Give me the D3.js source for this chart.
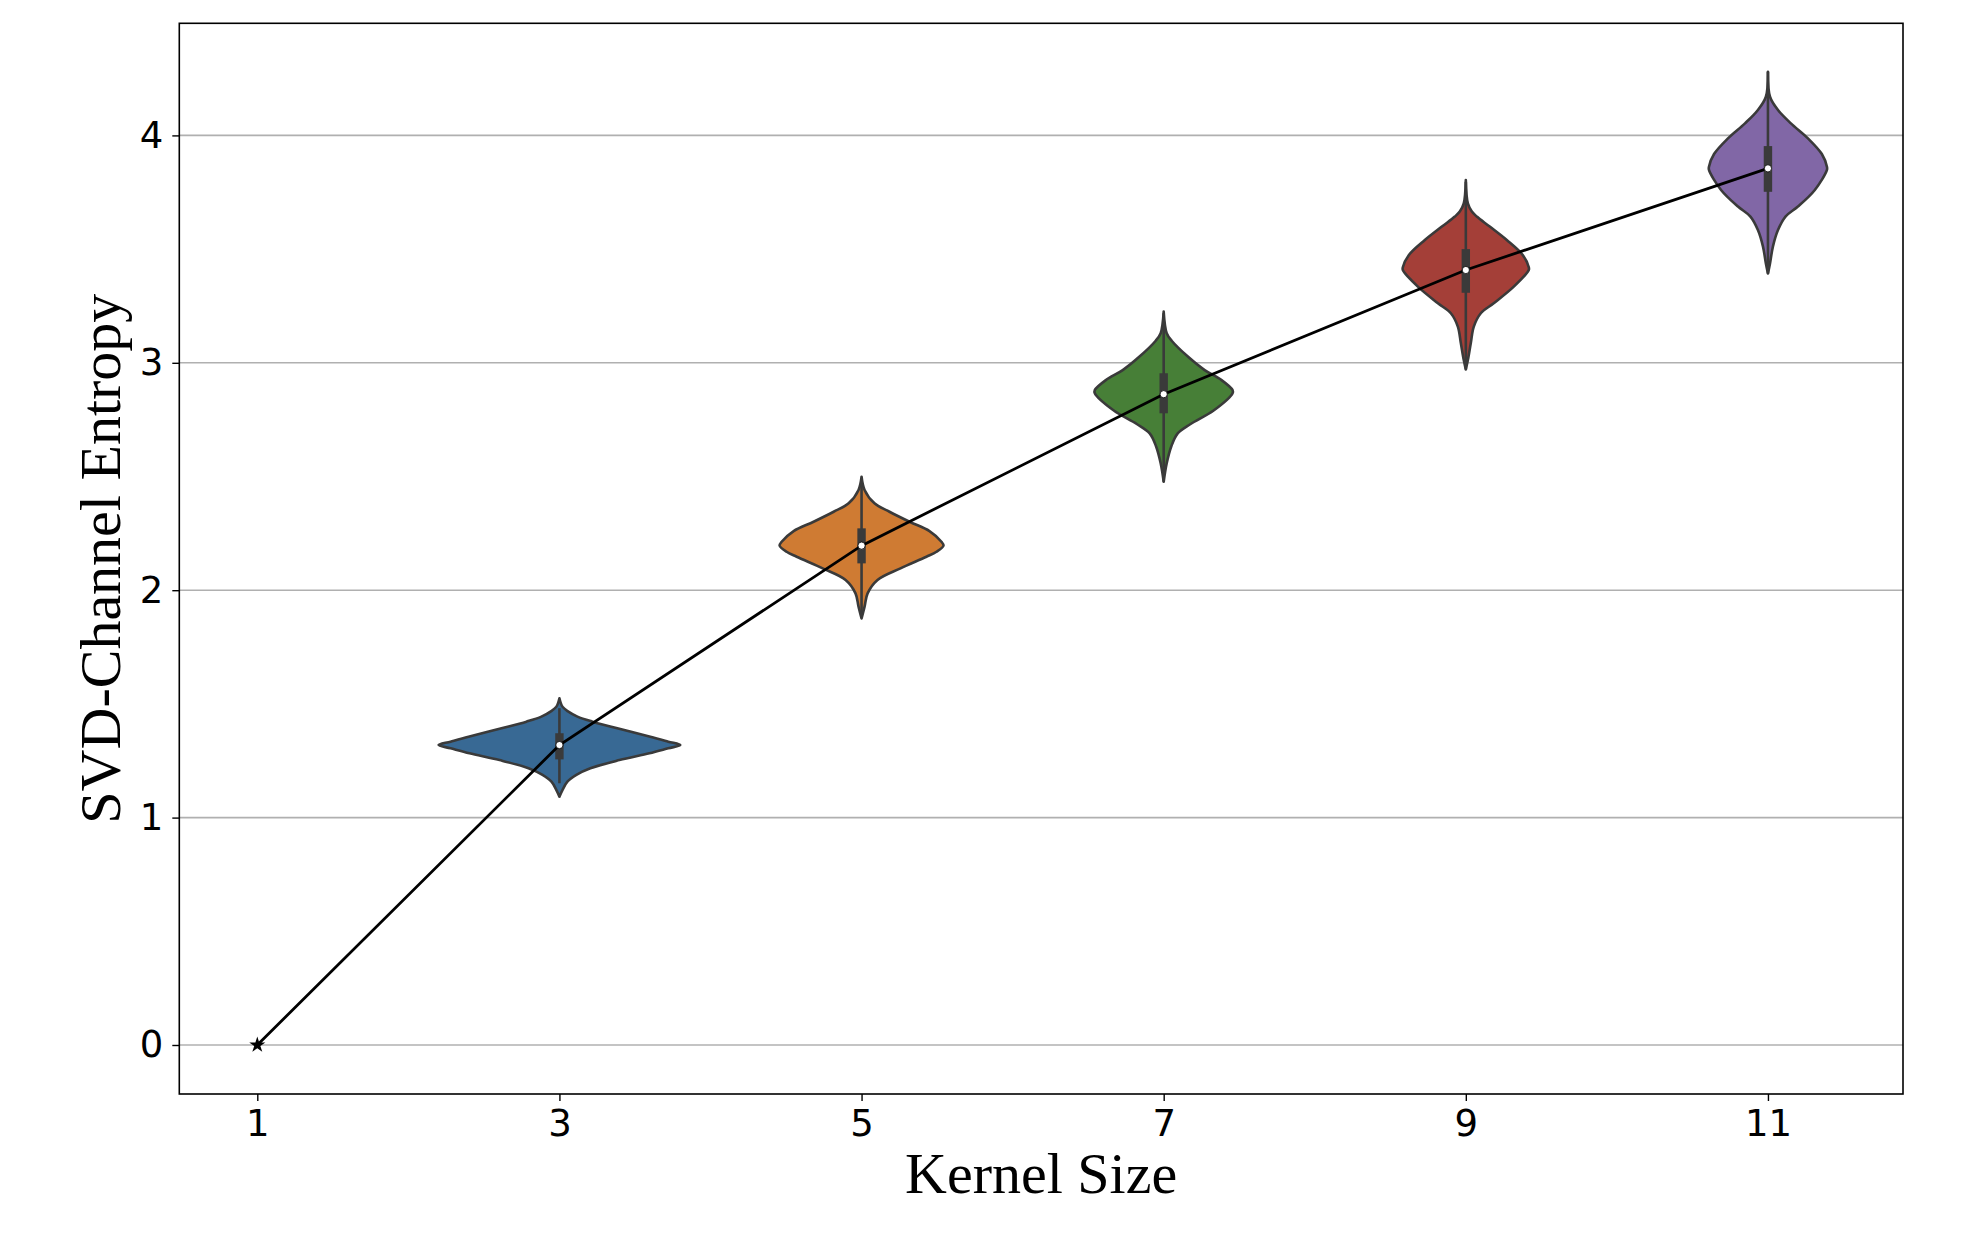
<!DOCTYPE html>
<html>
<head>
<meta charset="utf-8">
<script src="https://cdn.jsdelivr.net/npm/d3@7"></script>
<style>
  body { margin: 0; background: #fff; }
  svg { display: block; }
</style>
</head>
<body>
<svg id="chart"></svg>
<script>
// kernel sizes and line values (median entropy per kernel)
var kernelSizes = [1, 3, 5, 7, 9, 11];
var meanEntropy = [0, 1.319, 2.196, 2.862, 3.408, 3.855];
var yTicks = [0, 1, 2, 3, 4];

// violins (kernel 3..11): density profile
var violinKernels = [3, 5, 7, 9, 11];
var violinColors = ["#386994", "#cf7b33", "#477f37", "#a43f38", "#8167a6"];

var blueVals = [1.525, 1.488, 1.466, 1.444, 1.422, 1.393, 1.356, 1.334, 1.319, 1.305, 1.283, 1.253, 1.217, 1.188, 1.158, 1.121, 1.092];
var blueDens = [0, .025, .074, .149, .273, .479, .752, .901, 1.0, .901, .744, .496, .256, .14, .066, .025, 0];

var orangeVals = [2.499, 2.441, 2.382, 2.345, 2.301, 2.260, 2.213, 2.196, 2.169, 2.147, 2.096, 2.045, 1.986, 1.928, 1.876];
var orangeDens = [0, .025, .107, .231, .397, .562, .661, .678, .62, .537, .322, .132, .05, .025, 0];

var greenVals = [3.225, 3.130, 3.097, 3.024, 2.968, 2.924, 2.880, 2.866, 2.790, 2.731, 2.690, 2.631, 2.558, 2.477];
var greenDens = [0, .025, .066, .207, .339, .479, .570, .570, .413, .223, .116, .062, .025, 0];

var redVals = [3.804, 3.701, 3.665, 3.643, 3.599, 3.540, 3.474, 3.420, 3.408, 3.335, 3.262, 3.218, 3.159, 3.086, 3.012, 2.971];
var redDens = [0, .017, .05, .091, .198, .339, .471, .521, .521, .397, .231, .124, .066, .041, .017, 0];

var purpleVals = [4.280, 4.170, 4.112, 4.053, 3.987, 3.918, 3.862, 3.848, 3.760, 3.687, 3.643, 3.584, 3.511, 3.437, 3.393];
var purpleDens = [0, .017, .083, .19, .331, .446, .488, .488, .388, .248, .145, .083, .041, .017, 0];

// inner box: quartiles and whisker ends
var q1 = [1.256, 2.118, 2.778, 3.308, 3.752];
var q3 = [1.371, 2.272, 2.954, 3.500, 3.953];
var whiskLo = [1.151, 1.883, 2.477, 2.971, 3.393];
var whiskHi = [1.481, 2.470, 3.218, 3.796, 4.280];
var medians = [1.319, 2.196, 2.862, 3.408, 3.855];

var allVals = [blueVals, orangeVals, greenVals, redVals, purpleVals];
var allDens = [blueDens, orangeDens, greenDens, redDens, purpleDens];

var svgWidth = 1969;
var svgHeight = 1236;
var plotLeft = 179.3, plotRight = 1903, plotTop = 23.3, plotBottom = 1094;

var svg = d3.select("#chart")
  .attr("width", svgWidth)
  .attr("height", svgHeight);

var x = d3.scaleLinear().domain([0.4837, 11.894]).range([plotLeft, plotRight]);
var y = d3.scaleLinear().domain([-0.2155, 4.493]).range([plotBottom, plotTop]);
var halfWidth = 0.8; // half of violin width, in kernel units (category step = 2)

// grid
svg.append("g").selectAll("line")
  .data(yTicks)
  .enter()
  .append("line")
  .attr("x1", plotLeft).attr("x2", plotRight)
  .attr("y1", function(d) { return y(d); })
  .attr("y2", function(d) { return y(d); })
  .attr("stroke", "#b0b0b0")
  .attr("stroke-width", 1.6);

// violins
var vg = svg.append("g");
for (var i = 0; i < violinKernels.length; i++) {
  var c = violinKernels[i];
  var pts = allVals[i].map(function(v, j) { return {v: v, w: allDens[i][j]}; });
  var area = d3.area()
    .y(function(d) { return y(d.v); })
    .x0(function(d) { return x(c - d.w * halfWidth); })
    .x1(function(d) { return x(c + d.w * halfWidth); })
    .curve(d3.curveCatmullRom);
  vg.append("path")
    .datum(pts)
    .attr("d", area)
    .attr("fill", violinColors[i])
    .attr("stroke", "#3a3a3a")
    .attr("stroke-width", 2.6)
    .attr("stroke-linejoin", "round");
}

// inner boxes
var ig = svg.append("g");
ig.selectAll("line")
  .data(violinKernels)
  .enter()
  .append("line")
  .attr("x1", function(d) { return x(d); })
  .attr("x2", function(d) { return x(d); })
  .attr("y1", function(d, i) { return y(whiskHi[i]); })
  .attr("y2", function(d, i) { return y(whiskLo[i]); })
  .attr("stroke", "#3a3a3a")
  .attr("stroke-width", 2.6);
ig.selectAll("rect")
  .data(violinKernels)
  .enter()
  .append("rect")
  .attr("x", function(d) { return x(d) - 4.2; })
  .attr("width", 8.4)
  .attr("y", function(d, i) { return y(q3[i]); })
  .attr("height", function(d, i) { return y(q1[i]) - y(q3[i]); })
  .attr("fill", "#3a3a3a");

// line
var line = d3.line()
  .x(function(d) { return x(d[0]); })
  .y(function(d) { return y(d[1]); });
svg.append("path")
  .datum(kernelSizes.map(function(k, i) { return [k, meanEntropy[i]]; }))
  .attr("d", line)
  .attr("fill", "none")
  .attr("stroke", "#000")
  .attr("stroke-width", 2.8);

// star marker at first point
svg.append("path")
  .attr("d", d3.symbol().type(d3.symbolStar).size(80)())
  .attr("transform", "translate(" + x(kernelSizes[0]) + "," + y(meanEntropy[0]) + ")")
  .attr("fill", "#000");

// median dots
svg.append("g").selectAll("circle")
  .data(violinKernels)
  .enter()
  .append("circle")
  .attr("cx", function(d) { return x(d); })
  .attr("cy", function(d, i) { return y(medians[i]); })
  .attr("r", 3.6)
  .attr("fill", "#fff")
  .attr("stroke", "#000")
  .attr("stroke-width", 0.8);

// frame
svg.append("rect")
  .attr("x", plotLeft).attr("y", plotTop)
  .attr("width", plotRight - plotLeft).attr("height", plotBottom - plotTop)
  .attr("fill", "none")
  .attr("stroke", "#000")
  .attr("stroke-width", 1.6);

// axes
var xAxis = svg.append("g")
  .attr("transform", "translate(0," + plotBottom + ")")
  .call(d3.axisBottom(x).tickValues(kernelSizes).tickFormat(d3.format("d")).tickSize(7).tickPadding(9));
var yAxis = svg.append("g")
  .attr("transform", "translate(" + plotLeft + ",0)")
  .call(d3.axisLeft(y).tickValues(yTicks).tickFormat(d3.format("d")).tickSize(7).tickPadding(9));
[xAxis, yAxis].forEach(function(a) {
  a.select(".domain").remove();
  a.selectAll(".tick line").attr("stroke", "#000").attr("stroke-width", 1.4);
  a.selectAll(".tick text")
    .attr("fill", "#000")
    .style("font-family", "DejaVu Sans")
    .style("font-size", "37px");
});

// labels
svg.append("text")
  .attr("x", (plotLeft + plotRight) / 2)
  .attr("y", 1193)
  .attr("text-anchor", "middle")
  .style("font-family", "Liberation Serif")
  .style("font-size", "58px")
  .text("Kernel Size");

svg.append("text")
  .attr("transform", "translate(120," + (plotTop + plotBottom) / 2 + ") rotate(-90)")
  .attr("text-anchor", "middle")
  .style("font-family", "Liberation Serif")
  .style("font-size", "58px")
  .text("SVD-Channel Entropy");
</script>
</body>
</html>
